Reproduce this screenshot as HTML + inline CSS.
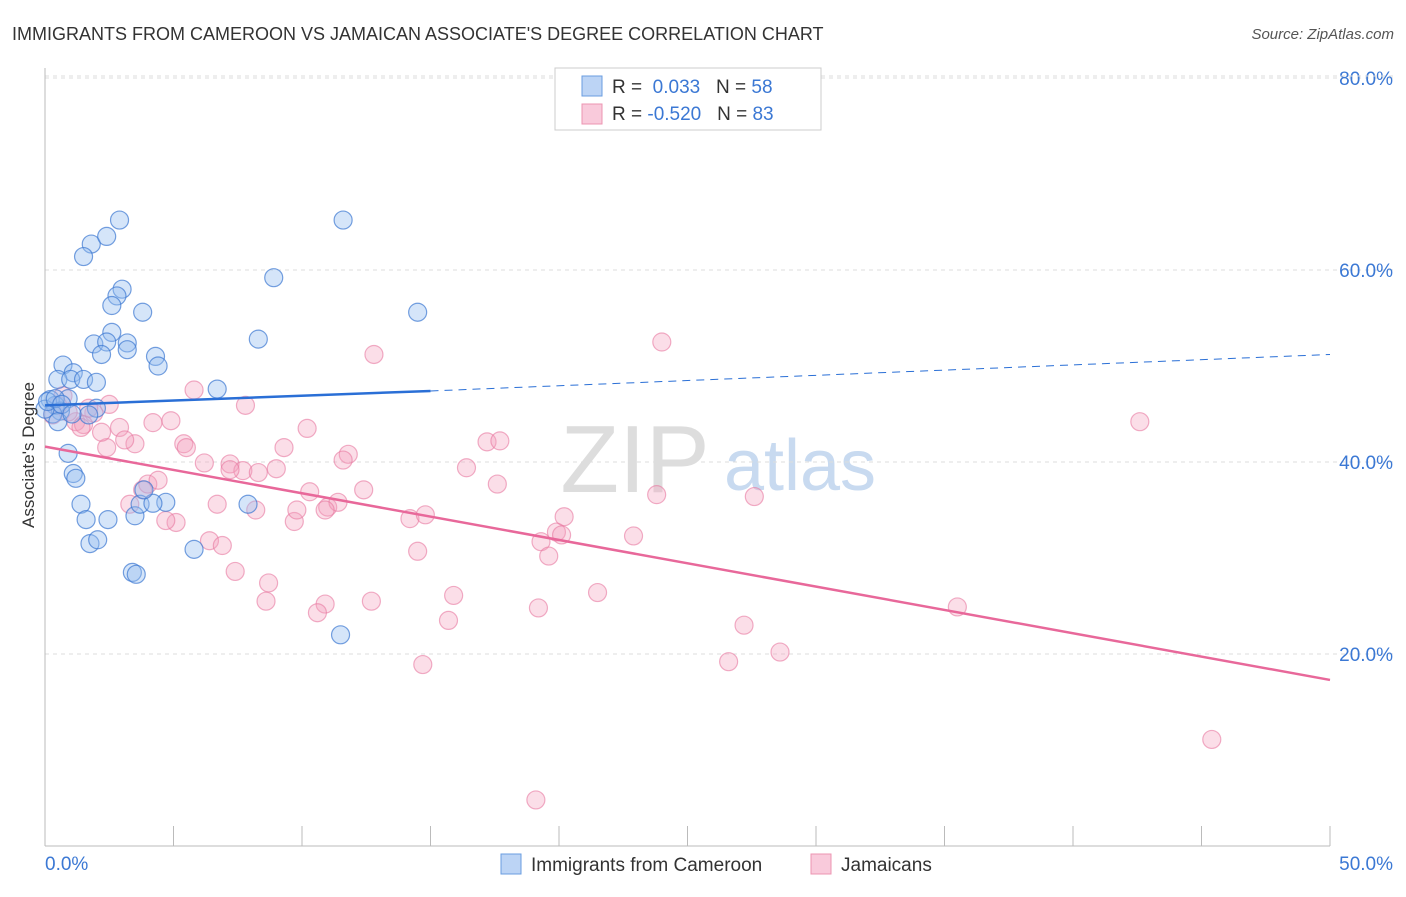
<!DOCTYPE html><html><head><meta charset="utf-8"><style>
body{margin:0;background:#fff;font-family:"Liberation Sans",sans-serif}
svg text{font-family:"Liberation Sans",sans-serif}
</style></head><body>
<svg id="c" width="1406" height="892">
<text x="12" y="40" font-size="18" fill="#333">IMMIGRANTS FROM CAMEROON VS JAMAICAN ASSOCIATE'S DEGREE CORRELATION CHART</text>
<text x="1394" y="39" font-size="15" fill="#555" font-style="italic" text-anchor="end">Source: ZipAtlas.com</text>
<text x="635" y="492" font-size="96" fill="#ddd" font-family="Liberation Serif" text-anchor="middle">ZIP</text>
<text x="800" y="490" font-size="72" fill="#c8daf0" text-anchor="middle">atlas</text>
<g id="grid"></g><g id="axes"></g><g id="pts"></g><g id="trend"></g>
<text transform="translate(34,455) rotate(-90)" font-size="17" fill="#333" text-anchor="middle">Associate's Degree</text>
<g>
<rect x="555" y="68" width="266" height="62" fill="#fff" stroke="#ccc"/>
<rect x="582" y="76" width="20" height="20" fill="#bcd4f5" stroke="#6a9de0"/>
<rect x="582" y="104" width="20" height="20" fill="#f9cadb" stroke="#ec94b2"/>
<text x="612" y="93" font-size="19" fill="#333">R = <tspan fill="#3b78d4">&#160;0.033</tspan>&#160;&#160;&#160;N = <tspan fill="#3b78d4">58</tspan></text>
<text x="612" y="120" font-size="19" fill="#333">R = <tspan fill="#3b78d4">-0.520</tspan>&#160;&#160;&#160;N = <tspan fill="#3b78d4">83</tspan></text>
</g>
<g>
<rect x="501" y="854" width="20" height="20" fill="#bcd4f5" stroke="#6a9de0"/>
<text x="531" y="871" font-size="19" fill="#333">Immigrants from Cameroon</text>
<rect x="811" y="854" width="20" height="20" fill="#f9cadb" stroke="#ec94b2"/>
<text x="841" y="871" font-size="19" fill="#333">Jamaicans</text>
</g>
</svg>
<script>
const yTicks=[20,40,60,80];
const xTickLabels=["0.0%","50.0%"];
const blueX=[2.9,1.8,2.4,1.5,3.0,2.8,2.6,3.8,2.6,1.9,2.4,3.2,3.2,2.2,4.3,4.4,0.7,1.1,0.5,1.0,1.5,2.0,6.7,8.3,8.9,11.6,14.5,0.9,0.2,0.4,0.6,0.3,0.0,2.0,1.7,0.5,0.9,1.1,1.2,1.4,1.6,2.45,3.5,3.7,4.7,4.2,3.85,1.75,2.05,5.8,3.4,3.55,7.9,11.5,0.1,0.4,0.65,1.05];
const blueY=[65.2,62.7,63.5,61.4,58.0,57.3,56.3,55.6,53.5,52.3,52.5,52.4,51.7,51.2,51.0,50.0,50.1,49.3,48.6,48.6,48.6,48.3,47.6,52.8,59.2,65.2,55.6,46.6,46.5,45.9,45.3,45.0,45.5,45.6,44.9,44.2,40.9,38.8,38.3,35.6,34.0,34.0,34.4,35.6,35.8,35.7,37.1,31.5,31.9,30.9,28.5,28.3,35.6,22.0,46.3,46.6,46.0,45.0];
const pinkX=[24.0,12.8,42.6,7.8,5.8,2.5,1.9,2.9,4.9,4.2,3.5,2.4,2.2,1.2,0.9,1.5,5.4,5.5,9.3,10.2,6.2,7.2,7.7,8.3,9.0,11.8,11.6,16.4,17.2,17.7,17.6,7.2,3.8,4.0,4.4,3.3,6.7,8.2,9.7,9.8,10.3,11.0,11.4,12.4,10.9,14.2,14.8,5.1,4.7,6.4,6.9,7.4,8.7,8.6,10.9,10.6,12.7,14.5,15.9,15.7,14.7,19.2,19.3,19.6,19.9,20.1,20.2,21.5,22.9,23.8,27.6,27.2,26.6,28.6,35.5,45.4,19.1,3.1,0.7,0.5,0.3,1.4,1.7];
const pinkY=[52.5,51.2,44.2,45.9,47.5,46.0,45.1,43.6,44.3,44.1,41.9,41.5,43.1,44.2,45.2,43.9,41.9,41.5,41.5,43.5,39.9,39.8,39.1,38.9,39.3,40.8,40.2,39.4,42.1,42.2,37.7,39.2,37.1,37.7,38.1,35.6,35.6,35.0,33.8,35.0,36.9,35.3,35.8,37.1,35.0,34.1,34.5,33.7,33.9,31.8,31.3,28.6,27.4,25.5,25.2,24.3,25.5,30.7,26.1,23.5,18.9,24.8,31.7,30.2,32.7,32.4,34.3,26.4,32.3,36.6,36.4,23.0,19.2,20.2,24.9,11.1,4.8,42.3,46.9,45.9,44.9,43.6,45.6];
const blueTrend=[0,45.9,15,47.4,50,51.2];
const pinkTrend=[0,41.6,50,17.3];
const X0=45,X1=1330,YB=846,PPU=9.6;
const sx=v=>X0+(v/50)*(X1-X0), sy=v=>YB-v*PPU;
const NS="http://www.w3.org/2000/svg";
function mk(t,a,p){const e=document.createElementNS(NS,t);for(const k in a)e.setAttribute(k,a[k]);p.appendChild(e);return e;}
const grid=document.getElementById('grid'),axes=document.getElementById('axes'),pts=document.getElementById('pts'),tr=document.getElementById('trend');
yTicks.forEach(t=>{const l=mk('line',{x1:X0,x2:1394,y1:sy(t),y2:sy(t),stroke:'#ddd','stroke-dasharray':'4,4'},grid);


const tx=mk('text',{x:1393,y:sy(t)+7,'font-size':19,fill:'#3b78d4','text-anchor':'end'},grid);tx.textContent=t.toFixed(1)+'%';

});
const gl=mk('line',{x1:X0,x2:1394,y1:sy(80)-2,y2:sy(80)-2,stroke:'#ddd','stroke-dasharray':'4,4'},grid);
mk('line',{x1:X0,x2:X0,y1:68,y2:YB,stroke:'#bbb'},axes);
mk('line',{x1:X0,x2:X1,y1:YB,y2:YB,stroke:'#bbb'},axes);
for(let i=0;i<=10;i++){const x=X0+i*(X1-X0)/10;mk('line',{x1:x,x2:x,y1:826,y2:YB,stroke:'#bbb'},axes);}
xTickLabels.forEach((s,i)=>{const t=mk('text',{x:i?1393:45,y:870,'font-size':19,fill:'#3b78d4','text-anchor':i?'end':'start'},axes);t.textContent=s;

});
pinkX.forEach((v,i)=>{const c=mk('circle',{cx:sx(v),cy:sy(pinkY[i]),r:9,fill:'rgba(244,160,190,0.35)',stroke:'rgba(232,120,160,0.6)','stroke-width':1.2},pts);

});
blueX.forEach((v,i)=>{const c=mk('circle',{cx:sx(v),cy:sy(blueY[i]),r:9,fill:'rgba(150,190,240,0.4)',stroke:'rgba(60,120,210,0.7)','stroke-width':1.2},pts);

});
const b1=mk('line',{x1:sx(blueTrend[0]),y1:sy(blueTrend[1]),x2:sx(blueTrend[2]),y2:sy(blueTrend[3]),stroke:'#2a6fd6','stroke-width':2.5},tr);


const b2=mk('line',{x1:sx(blueTrend[2]),y1:sy(blueTrend[3]),x2:sx(blueTrend[4]),y2:sy(blueTrend[5]),stroke:'#2a6fd6','stroke-width':1,'stroke-dasharray':'8,6'},tr);


const p1=mk('line',{x1:sx(pinkTrend[0]),y1:sy(pinkTrend[1]),x2:sx(pinkTrend[2]),y2:sy(pinkTrend[3]),stroke:'#e8689a','stroke-width':2.5},tr);


</script>
</body></html>
